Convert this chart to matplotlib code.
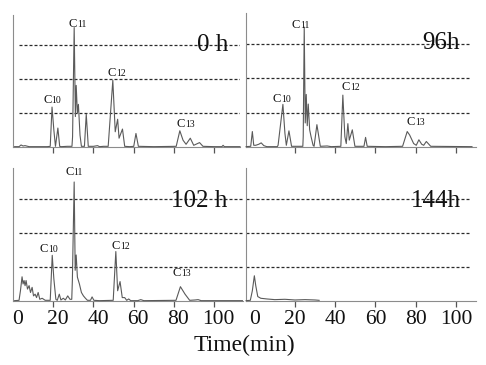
import matplotlib
matplotlib.use("Agg")
import matplotlib.pyplot as plt
import matplotlib.transforms as mtransforms

plt.rcParams['font.family'] = ['Liberation Serif', 'DejaVu Serif']

# ---------------- data (time in min, relative intensity) ----------------
t_0h = [0.8, 3.0, 4.0, 5.0, 6.0, 8.0, 17.0, 18.5, 19.4, 20.3, 21.1, 22.3, 23.2, 24.0, 27.0,
        29.3, 29.6, 30.4, 31.0, 31.4, 32.0, 32.5, 33.3, 34.0, 35.5, 36.4, 37.4, 40.0, 42.0,
        43.0, 45.0, 47.3, 49.6, 50.8, 52.0, 52.7, 54.4, 55.5, 58.0, 60.0, 61.1, 62.3, 70.0,
        81.1, 82.9, 84.5, 86.0, 88.1, 89.8, 92.7, 94.4, 100.0, 103.8, 104.4, 105.0, 112.8]
i_0h = [0.01, 0.01, 0.06, 0.03, 0.04, 0.01, 0.01, 0.02, 1.18, 0.50, 0.02, 0.56, 0.02, 0.01, 0.02,
        0.02, 0.30, 3.53, 0.90, 1.82, 1.00, 1.26, 0.35, 0.02, 0.02, 0.97, 0.02, 0.02, 0.04,
        0.01, 0.02, 0.02, 1.97, 0.45, 0.82, 0.26, 0.53, 0.02, 0.01, 0.02, 0.40, 0.02, 0.01,
        0.02, 0.48, 0.20, 0.08, 0.26, 0.05, 0.13, 0.02, 0.01, 0.01, 0.05, 0.01, 0.01]

t_96h = [-4.3, -2.0, -1.2, -0.5, 0.5, 2.0, 3.2, 4.5, 6.0, 11.2, 11.6, 14.0, 15.0, 15.7, 17.0,
         18.3, 23.9, 24.1, 24.6, 25.1, 25.6, 26.1, 26.6, 27.3, 28.0, 29.0, 29.5, 30.9, 32.6,
         36.0, 38.0, 42.8, 43.8, 44.8, 45.5, 46.3, 47.0, 48.5, 49.8, 54.3, 55.1, 55.9, 65.0,
         73.5, 75.8, 77.0, 79.0, 80.3, 81.6, 83.0, 84.0, 85.3, 87.5, 108.0]
i_96h = [0.01, 0.02, 0.45, 0.05, 0.05, 0.08, 0.12, 0.04, 0.01, 0.01, 0.05, 1.24, 0.40, 0.05, 0.47,
         0.02, 0.02, 0.30, 3.49, 0.70, 1.53, 0.62, 1.25, 0.50, 0.30, 0.05, 0.02, 0.65, 0.02,
         0.03, 0.01, 0.02, 1.51, 0.30, 0.10, 0.68, 0.20, 0.50, 0.02, 0.02, 0.28, 0.02, 0.01,
         0.02, 0.45, 0.35, 0.10, 0.05, 0.21, 0.08, 0.05, 0.16, 0.02, 0.01]

t_102h = [0.8, 3.0, 3.7, 4.5, 5.0, 5.5, 6.0, 6.5, 7.2, 8.0, 8.7, 9.5, 10.2, 11.0, 11.7, 12.5,
          13.3, 14.5, 16.0, 18.5, 19.5, 20.3, 21.3, 22.0, 23.0, 23.8, 25.0, 26.0, 27.2, 28.3,
          29.2, 29.5, 30.4, 30.9, 31.4, 32.0, 33.0, 34.0, 35.0, 36.0, 37.0, 38.5, 39.3, 40.2,
          43.0, 49.8, 51.1, 52.0, 53.2, 54.3, 55.5, 56.5, 57.5, 58.5, 62.0, 63.5, 65.0, 81.0,
          83.2, 85.5, 87.8, 90.5, 92.0, 93.5, 114.0]
i_102h = [0.01, 0.02, 0.30, 0.71, 0.50, 0.60, 0.45, 0.60, 0.35, 0.45, 0.25, 0.40, 0.15, 0.20, 0.10, 0.25,
          0.05, 0.08, 0.02, 0.02, 1.34, 0.65, 0.05, 0.02, 0.20, 0.03, 0.08, 0.03, 0.15, 0.05,
          0.05, 0.60, 3.49, 0.90, 1.35, 0.70, 0.50, 0.25, 0.15, 0.08, 0.02, 0.02, 0.12, 0.02,
          0.01, 0.02, 1.45, 0.30, 0.57, 0.10, 0.10, 0.02, 0.06, 0.01, 0.01, 0.04, 0.01, 0.02,
          0.42, 0.20, 0.02, 0.03, 0.04, 0.01, 0.01]

t_144h = [-4.3, -2.2, -1.2, -0.2, 0.5, 1.5, 3.0, 6.0, 10.0, 15.0, 20.0, 25.0, 30.0, 32.0]
i_144h = [0.01, 0.02, 0.30, 0.74, 0.45, 0.13, 0.08, 0.06, 0.04, 0.05, 0.03, 0.04, 0.03, 0.02]

panel_names = ["0 h", "96h", "102 h", "144h"]
tick_vals = [0, 20, 40, 60, 80, 100]
tick_labels = ["0", "20", "40", "60", "80", "100"]
grid_levels = [1, 2, 3]

# peak labels: (text digits, time, baseline height)
peaks_0h = [("10", 19.5, 1.30), ("11", 32.3, 3.56), ("12", 51.7, 2.10), ("13", 85.8, 0.60)]
peaks_96h = [("10", 13.5, 1.30), ("11", 22.8, 3.46), ("12", 47.7, 1.65), ("13", 80.1, 0.63)]
peaks_102h = [("10", 17.8, 1.43), ("11", 30.5, 3.69), ("12", 53.4, 1.53), ("13", 83.9, 0.74)]
peaks_144h = []

# ---------------- figure ----------------
W, H = 486, 365
fig = plt.figure(figsize=(W / 100, H / 100), dpi=100)

def ax_at(x0, x1, y0, y1):
    return fig.add_axes([x0 / W, 1 - y1 / H, (x1 - x0) / W, (y1 - y0) / H])

axes = [ax_at(13, 240, 15, 147), ax_at(246, 476, 13, 147),
        ax_at(13, 243, 168, 301), ax_at(246, 476, 168, 301)]
xlims = [(0.74, 112.8), (-4.35, 110.0), (0.74, 114.3), (-4.35, 110.0)]
dash_spans = [(3.2, 112.8), (-4.35, 107.5), (3.2, 114.3), (-4.35, 107.5)]
traces = [(t_0h, i_0h), (t_96h, i_96h), (t_102h, i_102h), (t_144h, i_144h)]
peaks = [peaks_0h, peaks_96h, peaks_102h, peaks_144h]
name_pos = [(99.0, 2.83), (92.7, 2.85), (92.6, 2.77), (89.9, 2.77)]

spine_col = "#8c8c8c"
trace_col = "#5a5a5a"

for k, ax in enumerate(axes):
    ax.set_xlim(*xlims[k])
    ax.set_ylim(0, 3.9)
    for s in ("top", "right"):
        ax.spines[s].set_visible(False)
    for s in ("left", "bottom"):
        ax.spines[s].set_color(spine_col)
        ax.spines[s].set_linewidth(0.8)
    ax.set_yticks([])
    ax.set_xticks(tick_vals)
    ax.tick_params(axis="x", direction="out", length=4, width=0.9, color="#555555",
                   labelsize=15.5, pad=2.5, labelcolor="#111111")
    ax.xaxis.get_major_ticks()[0].tick1line.set_visible(False)
    if k >= 2:
        ax.set_xticklabels(tick_labels)
        if k == 2:
            off = mtransforms.ScaledTranslation(4.5 / 100, 0, fig.dpi_scale_trans)
            for lab in ax.get_xticklabels():
                lab.set_transform(lab.get_transform() + off)
    else:
        ax.set_xticklabels([])

    a, b = dash_spans[k]
    ax.hlines(grid_levels, a, b, colors="#2a2a2a", linewidth=0.9,
              linestyles=(0, (2.4, 1.6)), zorder=1)

    t, v = traces[k]
    ax.plot(t, v, color=trace_col, linewidth=0.8, zorder=3, clip_on=False)

    for digits, pt, ph in peaks[k]:
        ax.annotate("C", (pt, ph), xytext=(-0.5, 0), textcoords="offset points",
                    ha="right", va="baseline", fontsize=9, color="#111111")
        ax.annotate(digits, (pt, ph), xytext=(-0.5, 0), textcoords="offset points",
                    ha="left", va="baseline", fontsize=7, color="#111111")

    nx, ny = name_pos[k]
    ax.text(nx, ny, panel_names[k], ha="center", va="baseline", fontsize=18,
            color="#111111", zorder=2)

fig.text(244 / W, 1 - 345 / H, "Time(min)", ha="center", va="center",
         fontsize=17, color="#111111")

fig.savefig("out.png", dpi=100, facecolor="white")
